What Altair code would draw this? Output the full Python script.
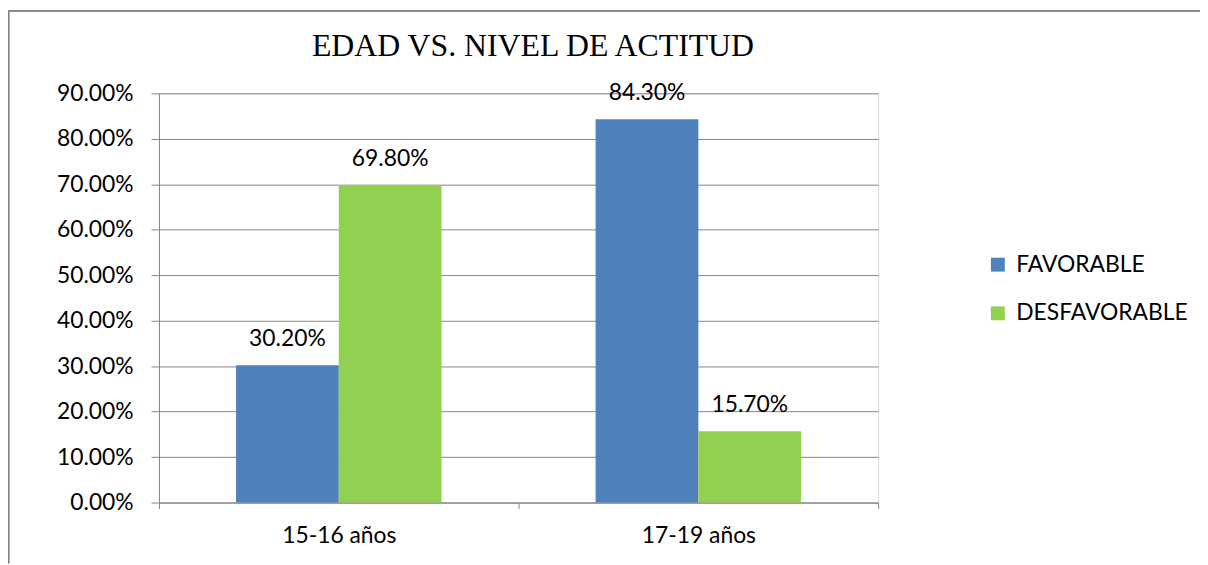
import altair as alt
import pandas as pd

# ---- data ----
groups = ["15-16 años", "17-19 años"]
series = ["FAVORABLE", "DESFAVORABLE"]
favorable = [0.302, 0.843]
desfavorable = [0.698, 0.157]
colors = ["#4F81BD", "#92D050"]
y_ticks = [0.0, 0.1, 0.2, 0.3, 0.4, 0.5, 0.6, 0.7, 0.8, 0.9]
title_text = "EDAD VS. NIVEL DE ACTITUD"

rows = []
for i, g in enumerate(groups):
    rows.append({"grupo": g, "serie": series[0], "valor": favorable[i]})
    rows.append({"grupo": g, "serie": series[1], "valor": desfavorable[i]})
df = pd.DataFrame(rows)

FONT = "Lato"
FS = 23
GRAY = "#868686"
W, H = 724, 412
PAD_L, PAD_T = 152, 84
TOTAL_W, TOTAL_H = 1200, 557

x_enc = alt.X(
    "grupo:N", sort=groups,
    scale=alt.Scale(paddingInner=0, paddingOuter=0),
    axis=alt.Axis(title=None, labelAngle=0, tickBand="extent", tickSize=6,
                  labelPadding=16, domainColor=GRAY, tickColor=GRAY,
                  labelFont=FONT, labelFontSize=FS, labelColor="black", grid=False),
)
xoff_enc = alt.XOffset("serie:N", sort=series,
                       scale=alt.Scale(paddingInner=0, paddingOuter=0.75))
y_enc = alt.Y(
    "valor:Q",
    scale=alt.Scale(domain=[0, 0.9], nice=False, zero=True),
    axis=alt.Axis(title=None, values=y_ticks, format=".2%", tickSize=8,
                  labelPadding=18, domainColor=GRAY, tickColor=GRAY,
                  gridColor=GRAY, gridWidth=1, labelFont=FONT, labelFontSize=FS,
                  labelColor="black"),
)
color_enc = alt.Color(
    "serie:N", sort=series,
    scale=alt.Scale(domain=series, range=colors),
    legend=alt.Legend(title=None, orient="none", legendX=833, legendY=161,
                      symbolType="square", symbolSize=196, symbolStrokeWidth=0,
                      symbolOpacity=1, labelOffset=7, labelFont=FONT,
                      labelFontSize=FS, labelColor="black", rowPadding=25,
                      labelLimit=0),
)

bars = alt.Chart(df).mark_bar(opacity=1).encode(
    x=x_enc, xOffset=xoff_enc, y=y_enc, color=color_enc
)
labels = alt.Chart(df).mark_text(
    dy=-19, baseline="alphabetic", align="center", font=FONT, fontSize=FS, color="black"
).encode(
    x=x_enc, xOffset=xoff_enc, y=y_enc,
    text=alt.Text("valor:Q", format=".2%"),
)

title = alt.Chart(pd.DataFrame({"t": [title_text]})).mark_text(
    font="Liberation Serif", fontSize=32, color="black",
    align="center", baseline="alphabetic"
).encode(x=alt.value(376.5), y=alt.value(-37.7), text="t:N")

# outer frame of the chart (as in the original document)
frame_top = alt.Chart(df).mark_rule(color=GRAY, strokeWidth=1.5).encode(
    x=alt.value(-151.5), x2=alt.value(TOTAL_W - PAD_L), y=alt.value(-83)
)
frame_left = alt.Chart(df).mark_rule(color=GRAY, strokeWidth=1.5).encode(
    x=alt.value(-151.5), y=alt.value(-83), y2=alt.value(TOTAL_H - PAD_T)
)

chart = alt.layer(bars, labels, title, frame_top, frame_left).properties(
    width=W, height=H,
    autosize=alt.AutoSizeParams(type="none"),
    padding={"left": PAD_L, "top": PAD_T, "right": TOTAL_W - PAD_L - W,
             "bottom": TOTAL_H - PAD_T - H},
).configure_view(stroke=None).configure(background="white")

chart.save("out.html", embed_options={"renderer": "svg", "actions": False})
